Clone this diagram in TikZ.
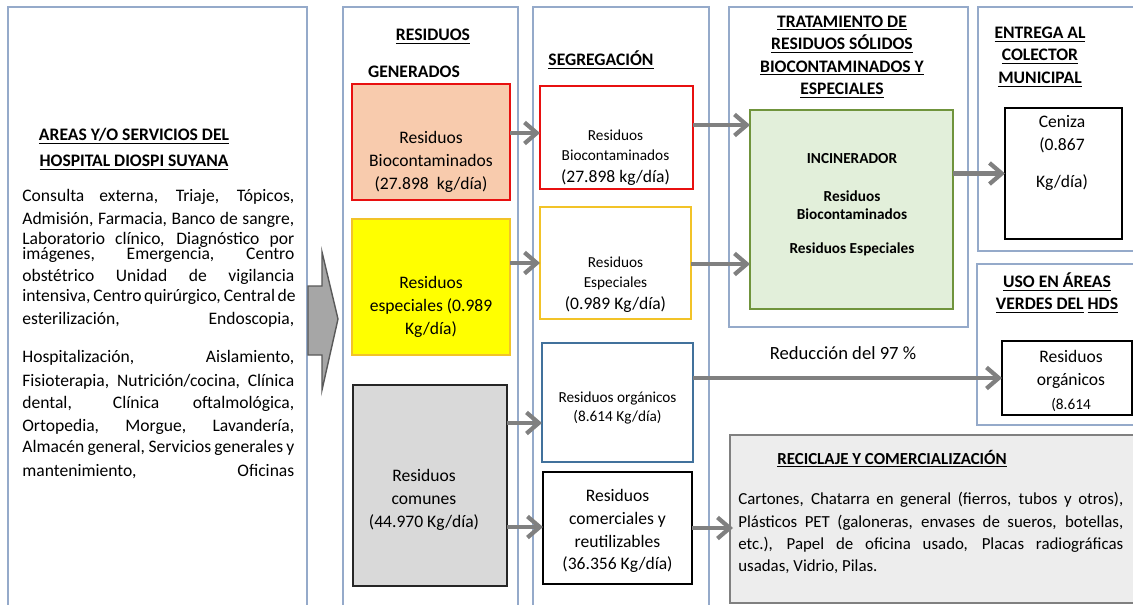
\documentclass[tikz,border=0pt]{standalone}
\usepackage{fontspec}
\setmainfont{Carlito}
\usetikzlibrary{arrows.meta}

\definecolor{panelborde}{RGB}{149,170,202}
\definecolor{rojob}{RGB}{232,16,16}
\definecolor{durazno}{RGB}{248,203,173}
\definecolor{amarillo}{RGB}{255,255,0}
\definecolor{dorado}{RGB}{242,195,40}
\definecolor{grisclaro}{RGB}{217,217,217}
\definecolor{azulb}{RGB}{65,113,156}
\definecolor{verdeclaro}{RGB}{226,239,218}
\definecolor{verdeb}{RGB}{112,148,60}
\definecolor{flecha}{RGB}{128,128,128}
\definecolor{reciclaje}{RGB}{237,237,237}
\definecolor{grisborde}{RGB}{128,128,128}
\definecolor{flechagrande}{RGB}{166,166,166}
\definecolor{flechaborde}{RGB}{89,89,89}

\newcommand{\chico}{\fontsize{8.7}{11}\selectfont}

\tikzset{
  panel/.style={draw=panelborde, line width=0.9pt},
  caja/.style 2 args={draw, line width=0.9pt, inner sep=0pt, outer sep=0pt,
    minimum width=#1*0.02cm, minimum height=#2*0.02cm},
  txt/.style={font=\fontsize{10}{13}\selectfont, align=center, inner sep=0pt},
  txtp/.style={font=\chico, align=center, inner sep=0pt},
  titulo/.style={font=\fontsize{10}{12.8}\selectfont\bfseries, align=center, inner sep=0pt},
  flujo/.style={draw=flecha, line width=2.4pt, -{Straight Barb[length=7pt,width=12pt]}},
}

\begin{document}
\begin{tikzpicture}[x=0.02cm, y=-0.02cm]
  \useasboundingbox (0,0) rectangle (1133,605);
  \clip (0,0) rectangle (1133,605);
  \fill[white] (0,0) rectangle (1133,605);

  % Paneles de fondo
  \draw[panel] (8,7) rectangle (307,620);
  \draw[panel] (343,7) rectangle (518,620);
  \draw[panel] (533,7) rectangle (709,620);
  \draw[panel] (729,7) rectangle (968,327);
  \draw[panel] (978,7) rectangle (1145,251);
  \draw[panel] (977,264) rectangle (1145,425);

  % Areas y servicios del hospital
  \node[titulo] (areastit) at (134,149)
    {\underline{AREAS Y/O SERVICIOS DEL}\\[2pt]\underline{HOSPITAL DIOSPI SUYANA}};
  \foreach \yy/\linea [count=\i] in {
      197/{Consulta externa, Triaje, Tópicos,},
      220/{Admisión, Farmacia, Banco de sangre,},
      240/{Laboratorio clínico, Diagnóstico por},
      255/{imágenes, Emergencia, Centro},
      277/{obstétrico Unidad de vigilancia},
      297/{intensiva, Centro quirúrgico, Central de},
      320/{esterilización, Endoscopia,},
      358/{Hospitalización, Aislamiento,},
      382/{Fisioterapia, Nutrición/cocina, Clínica},
      404/{dental, Clínica oftalmológica,},
      427/{Ortopedia, Morgue, Lavandería,},
      448/{Almacén general, Servicios generales y},
      472/{mantenimiento, Oficinas}}
    \node[txt, anchor=west] (serv\i) at (22,\yy) {\makebox[5.44cm][s]{\linea}};

  % Flecha grande
  \draw[fill=flechagrande, draw=flechaborde, line width=0.8pt]
    (308,286) -- (322,286) -- (322,252) -- (338,319) -- (322,390) -- (322,355) -- (308,355) -- cycle;

  % Residuos generados
  \node[titulo] (gentit) at (433,37) {\underline{RESIDUOS}};
  \node[titulo] (gentit2) at (414,72) {GENERADOS};
  \node[caja={158}{116}, draw=rojob, fill=durazno] (biogen) at (431,142) {};
  \node[txt] (biogentxt) at (431,162) {Residuos\\Biocontaminados\\(27.898 \ kg/día)};
  \node[caja={158}{136}, draw=dorado, fill=amarillo] (espgen) at (431,287) {};
  \node[txt] (espgentxt) at (431,307) {Residuos\\especiales (0.989\\Kg/día)};
  \node[caja={154}{201}, draw=black!85, line width=1.1pt, fill=grisclaro] (comgen) at (430,485.5) {};
  \node[txt] (comgentxt) at (424,500) {Residuos\\comunes\\(44.970 Kg/día)};

  % Segregacion
  \node[titulo] (segtit) at (601,60) {\underline{SEGREGACIÓN}};
  \node[caja={153}{103}, draw=rojob] (bioseg) at (616.5,137.5) {};
  \node[txt, font=\fontsize{10}{11.5}\selectfont] (biosegtxt) at (615.5,158)
    {{\chico Residuos}\\{\chico Biocontaminados}\\[1pt](27.898 kg/día)};
  \node[caja={151}{112}, draw=dorado] (espseg) at (615.5,263) {};
  \node[txt, font=\fontsize{10}{11.5}\selectfont] (espsegtxt) at (615.5,285)
    {{\chico Residuos}\\{\chico Especiales}\\[1pt](0.989 Kg/día)};
  \node[caja={151}{119}, draw=azulb] (orgseg) at (617.5,402.5) {};
  \node[txtp] (orgsegtxt) at (617.5,408) {Residuos orgánicos\\(8.614 Kg/día)};
  \node[caja={149}{112}, draw=black, line width=1.1pt] (comseg) at (617.5,528) {};
  \node[txt] (comsegtxt) at (617.5,531) {Residuos\\comerciales y\\reutilizables\\(36.356 Kg/día)};

  % Tratamiento
  \node[titulo] (tratit) at (842,57)
    {\underline{TRATAMIENTO DE}\\\underline{RESIDUOS SÓLIDOS}\\\underline{BIOCONTAMINADOS Y}\\\underline{ESPECIALES}};
  \node[caja={203}{199}, draw=verdeb, fill=verdeclaro] (incin) at (851.5,209.5) {};
  \node[txtp, font=\fontsize{8.7}{10.4}\selectfont\bfseries] (incintxt) at (852,205)
    {INCINERADOR\\[11pt]Residuos\\Biocontaminados\\[9pt]Residuos Especiales};
  \node[txt, font=\fontsize{10.6}{13}\selectfont] (reduc) at (843,353) {Reducción del 97 \%};

  % Entrega al colector municipal
  \node[titulo] (entit) at (1040,57)
    {\underline{ENTREGA AL}\\\underline{COLECTOR}\\\underline{MUNICIPAL}};
  \node[caja={117}{131}, draw=black, line width=1.1pt] (ceniza) at (1063.5,173.5) {};
  \node[txt] (cenizatxt) at (1062,153) {Ceniza\\(0.867\\[8pt]Kg/día)};

  % Uso en areas verdes
  \node[titulo] (usotit) at (1057,293)
    {\underline{USO EN ÁREAS}\\\underline{VERDES DEL} \underline{HDS}};
  \node[caja={130}{74}, draw=black, line width=1.1pt] (orguso) at (1067,378) {};
  \node[txt] (orgusotxt) at (1071,381) {Residuos\\orgánicos\\[1pt]{\chico(8.614}};

  % Reciclaje y comercializacion
  \node[caja={410}{168}, draw=grisborde, fill=reciclaje] (recic) at (935,519) {};
  \node[titulo, font=\fontsize{9.6}{12}\selectfont\bfseries, anchor=west] (recictit) at (777,459)
    {\underline{RECICLAJE Y COMERCIALIZACIÓN}};
  \foreach \yy/\linea [count=\i] in {
      500/{Cartones, Chatarra en general (fierros, tubos y otros),},
      523/{Plásticos PET (galoneras, envases de sueros, botellas,},
      545/{etc.), Papel de oficina usado, Placas radiográficas}}
    \node[txt, font=\fontsize{9.6}{12}\selectfont, anchor=west] (recic\i) at (738,\yy)
      {\makebox[7.7cm][s]{\linea}};
  \node[txt, font=\fontsize{9.6}{12}\selectfont, anchor=west] (recic4) at (738,567)
    {usadas, Vidrio, Pilas.};

  % Flechas de flujo
  \draw[flujo] (biogen.east |- 0,133) -- (bioseg.west |- 0,133);
  \draw[flujo] (espgen.east |- 0,263) -- (espseg.west |- 0,263);
  \draw[flujo] (comgen.east |- 0,423) -- (orgseg.west |- 0,423);
  \draw[flujo] (comgen.east |- 0,527) -- (comseg.west |- 0,527);
  \draw[flujo] (bioseg.east |- 0,125) -- (incin.west |- 0,125);
  \draw[flujo] (espseg.east |- 0,264) -- (incin.west |- 0,264);
  \draw[flujo] (incin.east |- ceniza.west) -- (ceniza.west);
  \draw[flujo] (orgseg.east |- orguso.west) -- (orguso.west);
  \draw[flujo] (comseg.east) -- ([xshift=0.06cm]recic.west |- comseg.east);
\end{tikzpicture}
\end{document}
